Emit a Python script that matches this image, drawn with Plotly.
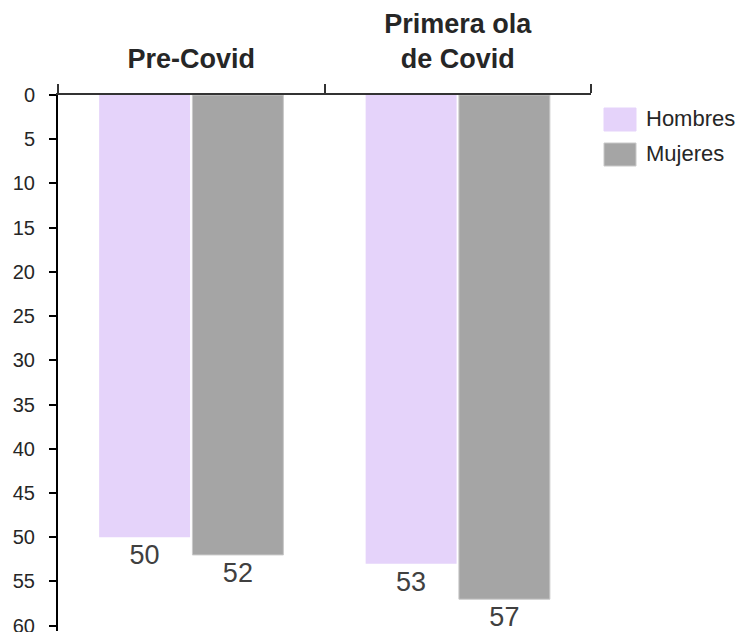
import plotly.graph_objects as go

# Data
periods = ["Pre-Covid", "Primera ola<br>de Covid"]
series_names = ["Hombres", "Mujeres"]
hombres = [50, 53]
mujeres = [52, 57]
y_ticks = [0, 5, 10, 15, 20, 25, 30, 35, 40, 45, 50, 55, 60]

colors = {"Hombres": "#E5D3FA", "Mujeres": "#A5A5A5"}
borders = {"Hombres": "#E5D3FA", "Mujeres": "#C8C8C8"}
border_w = {"Hombres": 0, "Mujeres": 1}

W, H = 738, 632
Y_MAX = 60.6
M = dict(l=58, r=147, t=95, b=1)
plot_w = W - M["l"] - M["r"]
plot_h = H - M["t"] - M["b"]

fig = go.Figure()
for name, vals in zip(series_names, [hombres, mujeres]):
    fig.add_trace(go.Bar(
        x=periods, y=vals, name=name,
        marker=dict(color=colors[name], line=dict(color=borders[name], width=border_w[name])),
        text=vals, texttemplate="%{y}", textposition="outside",
        textfont=dict(size=27, color="#404040", family="Liberation Sans, Arial"),
        cliponaxis=False, constraintext="none", showlegend=False,
    ))

# Legend drawn as swatches + labels (pixel positions converted to paper coords)
def px_x(px):
    return (px - M["l"]) / plot_w

def px_y(py):
    return (H - M["b"] - py) / plot_h

legend_rows = [(108, 131), (143, 166)]
for name, (top, bot) in zip(series_names, legend_rows):
    fig.add_shape(type="rect", xref="paper", yref="paper",
                  x0=px_x(604), x1=px_x(636), y0=px_y(bot), y1=px_y(top),
                  fillcolor=colors[name], line=dict(color=borders[name], width=1))
    fig.add_annotation(xref="paper", yref="paper", x=px_x(644), y=px_y((top + bot) / 2 - 1),
                       text=name, showarrow=False, xanchor="left", yanchor="middle",
                       font=dict(size=22, color="#262626", family="Liberation Sans, Arial"))

fig.update_layout(
    width=W, height=H, margin=M,
    paper_bgcolor="white", plot_bgcolor="white",
    barmode="group", bargap=0.30, bargroupgap=0.025,
    font=dict(family="Liberation Sans, Arial", color="#262626"),
)
fig.update_xaxes(
    side="top", showline=True, linecolor="#333333", linewidth=2,
    ticks="outside", tickson="boundaries", ticklen=9, tickwidth=1.5, tickcolor="#333333",
    tickfont=dict(size=27, weight="bold", color="#262626"),
    ticklabelstandoff=14, showgrid=False, zeroline=False,
)
fig.update_yaxes(
    range=[Y_MAX, 0], tickvals=y_ticks, showline=True, linecolor="#000000", linewidth=2,
    ticks="outside", ticklen=7, tickwidth=1.5, tickcolor="#000000",
    tickfont=dict(size=20, color="#262626"), ticklabelstandoff=10,
    ticklabeloverflow="allow",
    showgrid=False, zeroline=False, automargin=False,
)

fig.write_html("out.html")
